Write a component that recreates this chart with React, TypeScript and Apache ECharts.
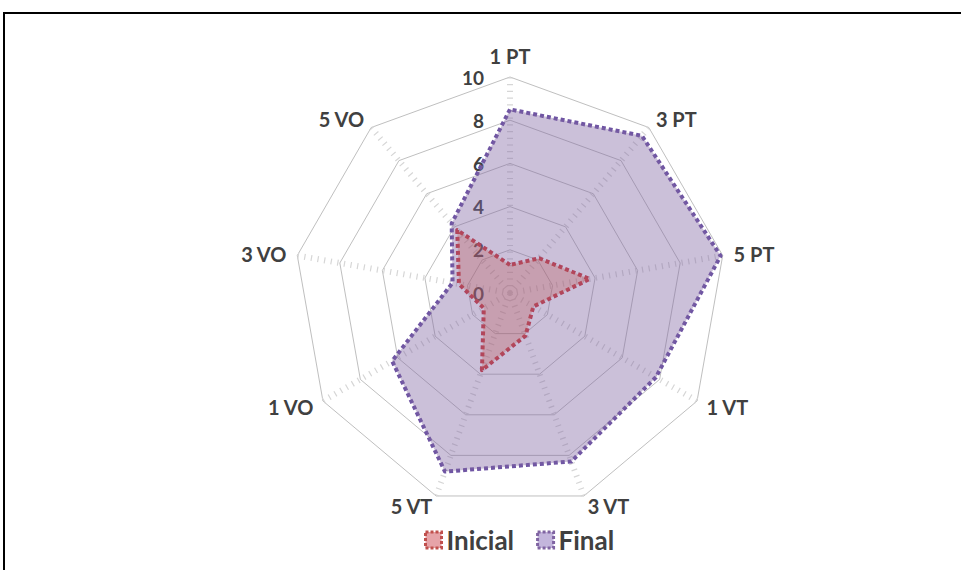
import React, { useEffect, useRef } from "react";
import * as echarts from "echarts";

const categories = ["1 PT", "3 PT", "5 PT", "1 VT", "3 VT", "5 VT", "1 VO", "3 VO", "5 VO"];
const inicialValues = [1.3, 2.1, 3.75, 1.25, 2.1, 3.8, 1.4, 2.4, 3.8];
const finalValues = [8.5, 9.5, 9.9, 7.8, 8.3, 8.8, 6.3, 2.7, 4.2];
const seriesNames = ["Inicial", "Final"];
const axisMax = 10;

// ECharts places radar indicators counter-clockwise; the reference runs clockwise.
const order = [0, ...categories.map((_, i) => i).slice(1).reverse()];
const reorder = (arr: any[]) => order.map((i) => arr[i]);

export default function App() {
  const ref = useRef<HTMLDivElement>(null);
  useEffect(() => {
    if (!ref.current) return;
    const chart = echarts.init(ref.current, null, { renderer: "svg" });
    const textColor = "#404040";
    const font = "Lato";
    const indicator = reorder(categories).map((name, i) => {
      const ind: any = { name, min: 0, max: axisMax };
      if (i === 0) {
        ind.axisLabel = {
          show: true,
          color: textColor,
          fontSize: 19,
          fontWeight: "bold",
          fontFamily: font,
          margin: 26,
        };
      }
      return ind;
    });
    chart.setOption({
      animation: false,
      backgroundColor: "#ffffff",
      graphic: [
        { type: "line", shape: { x1: 3, y1: 13, x2: 961, y2: 13 }, style: { stroke: "#000", lineWidth: 2 } },
        { type: "line", shape: { x1: 4, y1: 12, x2: 4, y2: 570 }, style: { stroke: "#000", lineWidth: 2 } },
      ],
      legend: {
        data: [
          {
            name: seriesNames[0],
            icon: "rect",
            itemStyle: { color: "#e6a3a8", borderColor: "#c0504d", borderWidth: 3, borderType: [3, 2] },
          },
          {
            name: seriesNames[1],
            icon: "rect",
            itemStyle: { color: "#c3b5dc", borderColor: "#8064a2", borderWidth: 3, borderType: [3, 2] },
          },
        ],
        left: 419,
        top: 522,
        itemWidth: 16,
        itemHeight: 16,
        itemGap: 22,
        textStyle: { color: textColor, fontSize: 26, fontWeight: "bold", fontFamily: font },
      },
      radar: {
        center: [510, 293],
        radius: 216,
        startAngle: 90,
        splitNumber: 5,
        shape: "polygon",
        nameGap: 11,
        axisName: { color: textColor, fontSize: 20, fontWeight: "bold", fontFamily: font },
        axisLine: { show: true, lineStyle: { color: "#d6d6d6", width: 6, type: [1.2, 5.5], cap: "butt" } },
        axisTick: { show: false },
        axisLabel: { show: false },
        splitLine: { lineStyle: { color: "#bfbfbf", width: 1 } },
        splitArea: { show: false },
        indicator,
      },
      series: [
        {
          type: "radar",
          name: seriesNames[1],
          symbol: "none",
          z: 2,
          lineStyle: { color: "#6f55a3", width: 4, type: [4, 3] },
          areaStyle: { color: "rgba(128,100,162,0.58)" },
          itemStyle: { color: "#8064a2" },
          data: [{ name: seriesNames[1], value: reorder(finalValues) }],
        },
        {
          type: "radar",
          name: seriesNames[0],
          symbol: "none",
          z: 3,
          lineStyle: { color: "#b0455e", width: 4, type: [4, 3] },
          areaStyle: { color: "rgba(192,80,77,0.42)" },
          itemStyle: { color: "#c0504d" },
          data: [{ name: seriesNames[0], value: reorder(inicialValues) }],
        },
      ],
    });
    return () => chart.dispose();
  }, []);
  return (
    <div
      ref={ref}
      style={{ position: "fixed", left: 0, top: 0, width: 961, height: 570 }}
    />
  );
}
